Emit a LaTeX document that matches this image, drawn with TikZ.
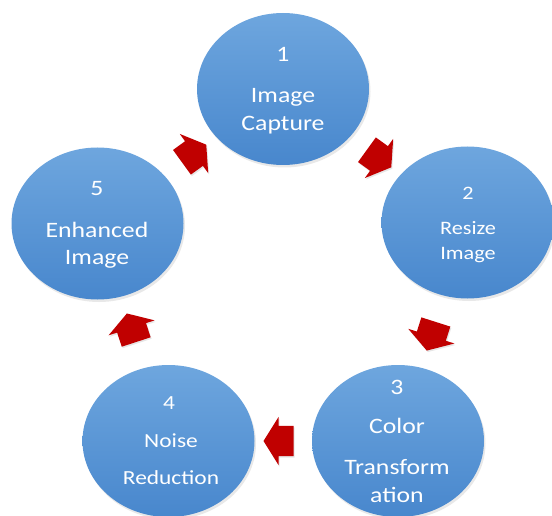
\documentclass[tikz,border=0pt]{standalone}
\usepackage{fontspec}
\setmainfont{Carlito}[FakeStretch=1.17]
\usetikzlibrary{shapes.geometric,shapes.arrows,shadows,calc}
\definecolor{bubtop}{HTML}{6EA6DE}
\definecolor{bubbot}{HTML}{4887CD}
\definecolor{arrred}{HTML}{C00000}
\begin{document}
\begin{tikzpicture}[x=1pt,y=-1pt,
  bubble/.style={ellipse, minimum width=172pt, minimum height=152pt, inner sep=0pt,
    top color=bubtop, bottom color=bubbot, draw=none,
    drop shadow={opacity=0.18, shadow xshift=1.5pt, shadow yshift=-2.5pt}},
  lbl/.style={anchor=base, text=white, inner sep=0pt},
  fa/.style={lbl, font=\fontsize{22}{26}\selectfont},
  fb/.style={lbl, font=\fontsize{19}{23}\selectfont},
  fc/.style={lbl, font=\fontsize{20}{24}\selectfont},
  flow/.style={single arrow, minimum height=30pt, inner xsep=0pt, inner ysep=15pt,
    single arrow head extend=9pt, single arrow tip angle=116,
    fill=arrred, draw=none, sloped, allow upside down,
    drop shadow={opacity=0.2, shadow xshift=1pt, shadow yshift=-1.5pt}}
]
\useasboundingbox (0,0) rectangle (552,516);
% circles
\node[bubble] (c1) at (283,89) {};
\node[bubble] (c2) at (467.5,222.5) {};
\node[bubble] (c3) at (398,441) {};
\node[bubble] (c4) at (168.5,441) {};
\node[bubble] (c5) at (97.5,223.5) {};
% labels
\node[fa] (t1a) at (283,62) {1};
\node[fa] (t1b) at (283,103) {Image};
\node[fa] (t1c) at (283,131) {Capture};
\node[fb] (t2a) at (468,200) {2};
\node[fb] (t2b) at (468,234) {Resize};
\node[fb] (t2c) at (468,259) {Image};
\node[fa] (t3a) at (397,394) {3};
\node[fa] (t3b) at (397,433) {Color};
\node[fa] (t3c) at (397,474) {Transform};
\node[fa] (t3d) at (397,502) {ation};
\node[fc] (t4a) at (169,409) {4};
\node[fc] (t4b) at (171,447) {Noise};
\node[fc] (t4c) at (171,484) {Reduction};
\node[fa] (t5a) at (97,196) {5};
\node[fa] (t5b) at (97,237) {Enhanced};
\node[fa] (t5c) at (97,265) {Image};
% arrows
\path (c1) -- node[flow] (a12) {} (c2);
\path (c2) -- node[flow] (a23) {} (c3);
\path (c3) -- node[flow] (a34) {} (c4);
\path (c4) -- node[flow] (a45) {} (c5);
\path (c5) -- node[flow] (a51) {} (c1);
\end{tikzpicture}
\end{document}
